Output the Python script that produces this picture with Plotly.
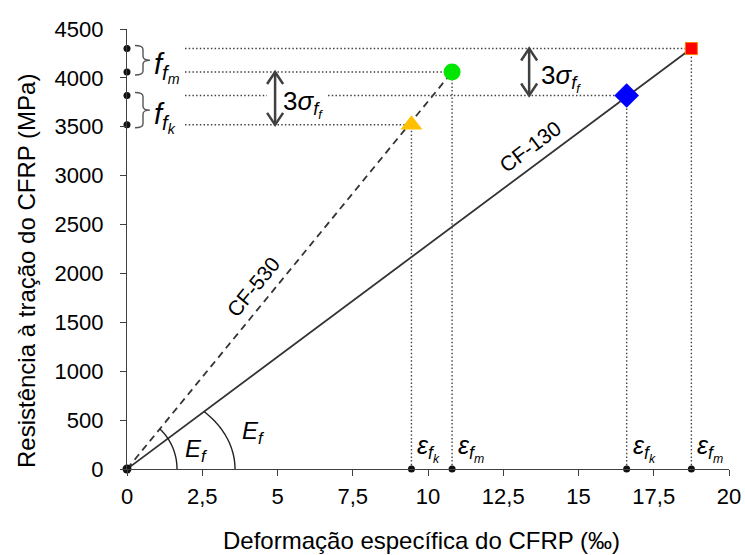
import numpy as np
import plotly.graph_objects as go

# ---------------- data ----------------
materials = ["CF-530", "CF-130"]
strain_k = [9.45, 16.6]      # characteristic strain (‰)
strain_m = [10.8, 18.75]     # mean strain (‰)
stress_k = [3520, 3820]      # characteristic strength (MPa)
stress_m = [4060, 4300]      # mean strength (MPa)
marker_k = ["triangle-up", "diamond"]
marker_m = ["circle", "square"]
color_k = ["#FFC000", "#0000FF"]
color_m = ["#00E600", "#FF0000"]
x_ticks = [0, 2.5, 5, 7.5, 10, 12.5, 15, 17.5, 20]
x_ticktext = ["0", "2,5", "5", "7,5", "10", "12,5", "15", "17,5", "20"]
y_ticks = [0, 500, 1000, 1500, 2000, 2500, 3000, 3500, 4000, 4500]
x_title = "Deformação específica do CFRP (‰)"
y_title = "Resistência à tração do CFRP (MPa)"

# ---------------- layout geometry ----------------
W, H = 745, 555
ML, MR, MT, MB = 127, 16, 29, 86
XR = [0, 20]
YR = [0, 4500]
PW, PH = W - ML - MR, H - MT - MB
kx = PW / (XR[1] - XR[0])   # px per unit x
ky = PH / (YR[1] - YR[0])   # px per unit y
def px2x(p): return p / kx
def px2y(p): return p / ky

FONT = "Liberation Sans, Arial, sans-serif"
DARK = "#333333"
DOT = "1.5px,2.2px"

fig = go.Figure()

# main lines
fig.add_trace(go.Scatter(x=[0, strain_m[0]], y=[0, stress_m[0]], mode="lines",
                         line=dict(color=DARK, width=1.8, dash="7px,5px"), hoverinfo="skip"))
fig.add_trace(go.Scatter(x=[0, strain_m[1]], y=[0, stress_m[1]], mode="lines",
                         line=dict(color=DARK, width=1.8), hoverinfo="skip"))

# dotted guide lines
x_start = px2x(58)
gap_l, gap_r = 4.65, 6.68   # gap behind left 3σ label
def dotted(xs, ys):
    fig.add_trace(go.Scatter(x=xs, y=ys, mode="lines",
                             line=dict(color="#444444", width=1.4, dash=DOT), hoverinfo="skip"))
for i in range(2):
    dotted([x_start, strain_m[i]], [stress_m[i], stress_m[i]])
    if i == 1:
        dotted([x_start, gap_l], [stress_k[i], stress_k[i]])
        dotted([gap_r, strain_k[i]], [stress_k[i], stress_k[i]])
    else:
        dotted([x_start, strain_k[i]], [stress_k[i], stress_k[i]])
    dotted([strain_m[i], strain_m[i]], [0, stress_m[i]])
    dotted([strain_k[i], strain_k[i]], [0, stress_k[i]])

# black dots on axes
all_stress = stress_m + stress_k
all_strain = strain_m + strain_k
fig.add_trace(go.Scatter(x=[0] * len(all_stress), y=all_stress, mode="markers",
                         marker=dict(color="#111111", size=7), cliponaxis=False, hoverinfo="skip"))
fig.add_trace(go.Scatter(x=all_strain, y=[0] * len(all_strain), mode="markers",
                         marker=dict(color="#111111", size=7), cliponaxis=False, hoverinfo="skip"))
fig.add_trace(go.Scatter(x=[0], y=[0], mode="markers",
                         marker=dict(color="#111111", size=9), cliponaxis=False, hoverinfo="skip"))

# coloured markers
sizes_k = [19, 19]
sizes_m = [17, 12]
for i in range(2):
    fig.add_trace(go.Scatter(x=[strain_k[i]], y=[stress_k[i]], mode="markers",
                             marker=dict(symbol=marker_k[i], color=color_k[i], size=sizes_k[i],
                                         line=dict(width=0)),
                             cliponaxis=False, hoverinfo="skip"))
    fig.add_trace(go.Scatter(x=[strain_m[i]], y=[stress_m[i]], mode="markers",
                             marker=dict(symbol=marker_m[i], color=color_m[i], size=sizes_m[i],
                                         line=dict(width=1 if i == 1 else 0, color="#FF7A00")),
                             cliponaxis=False, hoverinfo="skip"))

shapes = []
annotations = []

# braces on the y axis
def brace(ylo, yhi):
    yt = yhi + px2y(3); yb = ylo - px2y(3); ym = (ylo + yhi) / 2
    r = px2y(4)
    x8, x16, x23 = px2x(8), px2x(16), px2x(23)
    p = (f"M {x8},{yt} Q {x16},{yt} {x16},{yt - r} L {x16},{ym + r} "
         f"Q {x16},{ym} {x23},{ym} Q {x16},{ym} {x16},{ym - r} "
         f"L {x16},{yb + r} Q {x16},{yb} {x8},{yb}")
    shapes.append(dict(type="path", path=p, xref="x", yref="y",
                       line=dict(color="#555555", width=1.4)))
brace(min(stress_m), max(stress_m))
brace(min(stress_k), max(stress_k))
annotations.append(dict(x=px2x(25), y=(stress_m[0] + stress_m[1]) / 2, xanchor="left", yanchor="middle",
                        text="<i>f<sub>f<sub>m</sub></sub></i>", showarrow=False, yshift=-7,
                        font=dict(size=29, color="black", family=FONT)))
annotations.append(dict(x=px2x(25), y=(stress_k[0] + stress_k[1]) / 2, xanchor="left", yanchor="middle",
                        text="<i>f<sub>f<sub>k</sub></sub></i>", showarrow=False, yshift=-7,
                        font=dict(size=29, color="black", family=FONT)))

# double-headed 3σ arrows
def dbl_arrow(x, y0, y1):
    a, b = px2x(8), px2y(12)
    shapes.append(dict(type="line", x0=x, x1=x, y0=y0, y1=y1, xref="x", yref="y",
                       line=dict(color="#404040", width=2.5)))
    shapes.append(dict(type="path", xref="x", yref="y",
                       path=f"M {x - a},{y1 - b} L {x},{y1} L {x + a},{y1 - b}",
                       line=dict(color="#404040", width=2.5)))
    shapes.append(dict(type="path", xref="x", yref="y",
                       path=f"M {x - a},{y0 + b} L {x},{y0} L {x + a},{y0 + b}",
                       line=dict(color="#404040", width=2.5)))
arrow_x = [4.92, 13.36]
label_x = [5.1, 13.7]
for i in range(2):
    dbl_arrow(arrow_x[i], stress_k[i], stress_m[i])
    annotations.append(dict(x=label_x[i], y=(stress_k[i] + stress_m[i]) / 2, xanchor="left",
                            yanchor="middle", showarrow=False, yshift=-6,
                            text="3<i>σ<sub>f<sub>f</sub></sub></i>",
                            font=dict(size=26, color="black", family=FONT)))

# epsilon labels
for i in range(2):
    for xs, sub in [(strain_k[i], "k"), (strain_m[i], "m")]:
        annotations.append(dict(x=xs, y=0, xanchor="left", yanchor="bottom", xshift=4, yshift=1,
                                showarrow=False,
                                text=f"<i>ε<sub>f<sub>{sub}</sub></sub></i>",
                                font=dict(size=25, color="black", family=FONT)))

# E_f arcs
def arc(theta_px, a, b, n=40):
    t_end = np.arctan(a * np.tan(theta_px) / b)
    ts = np.linspace(t_end, 0, n)
    pts = [(px2x(a * np.cos(t)), px2y(b * np.sin(t))) for t in ts]
    p = "M " + " L ".join(f"{x},{y}" for x, y in pts)
    shapes.append(dict(type="path", path=p, xref="x", yref="y",
                       line=dict(color="#222222", width=1.4)))
theta = [np.arctan2(stress_m[i] * ky, strain_m[i] * kx) for i in range(2)]
arc(theta[0], 50, 53)
arc(theta[1], 108, 82)
annotations.append(dict(x=px2x(69), y=px2y(19), text="<i>E<sub>f</sub></i>", showarrow=False,
                        font=dict(size=24, color="black", family=FONT)))
annotations.append(dict(x=px2x(126), y=px2y(37), text="<i>E<sub>f</sub></i>", showarrow=False,
                        font=dict(size=24, color="black", family=FONT)))

# material labels along lines
label_foot_x = [4.66, 13.75]
for i in range(2):
    xf = label_foot_x[i]
    yf = xf * stress_m[i] / strain_m[i]
    th = theta[i]
    off = 18
    annotations.append(dict(x=xf, y=yf, text=materials[i], showarrow=False,
                            textangle=-np.degrees(th),
                            xshift=-off * np.sin(th), yshift=off * np.cos(th),
                            font=dict(size=21, color="black", family=FONT)))

# axis titles as annotations (paper coords from pixel positions)
annotations.append(dict(xref="paper", yref="paper", x=(421 - ML) / PW, y=-(540 - (MT + PH)) / PH,
                        text=x_title, showarrow=False, xanchor="center", yanchor="middle",
                        font=dict(size=24, color="black", family=FONT)))
annotations.append(dict(xref="paper", yref="paper", x=(26 - ML) / PW, y=((MT + PH) - 271) / PH,
                        text=y_title, showarrow=False, xanchor="center", yanchor="middle",
                        textangle=-90, font=dict(size=24, color="black", family=FONT)))

fig.update_layout(
    width=W, height=H,
    margin=dict(l=ML, r=MR, t=MT, b=MB, autoexpand=False),
    paper_bgcolor="white", plot_bgcolor="white",
    showlegend=False,
    shapes=shapes, annotations=annotations,
    font=dict(family=FONT, color="black"),
    xaxis=dict(range=XR, tickvals=x_ticks, ticktext=x_ticktext, showgrid=False, zeroline=False,
               automargin=False,
               showline=True, linecolor="#404040", linewidth=1.3, ticks="outside", ticklen=6,
               tickcolor="#404040", tickwidth=1.3, tickfont=dict(size=22, family=FONT),
               ticklabelstandoff=1),
    yaxis=dict(range=YR, tickvals=y_ticks, showgrid=False, zeroline=False,
               automargin=False,
               showline=True, linecolor="#404040", linewidth=1.3, ticks="outside", ticklen=6,
               tickcolor="#404040", tickwidth=1.3, tickfont=dict(size=22, family=FONT),
               ticklabelstandoff=12),
)

fig.write_html("out.html")
